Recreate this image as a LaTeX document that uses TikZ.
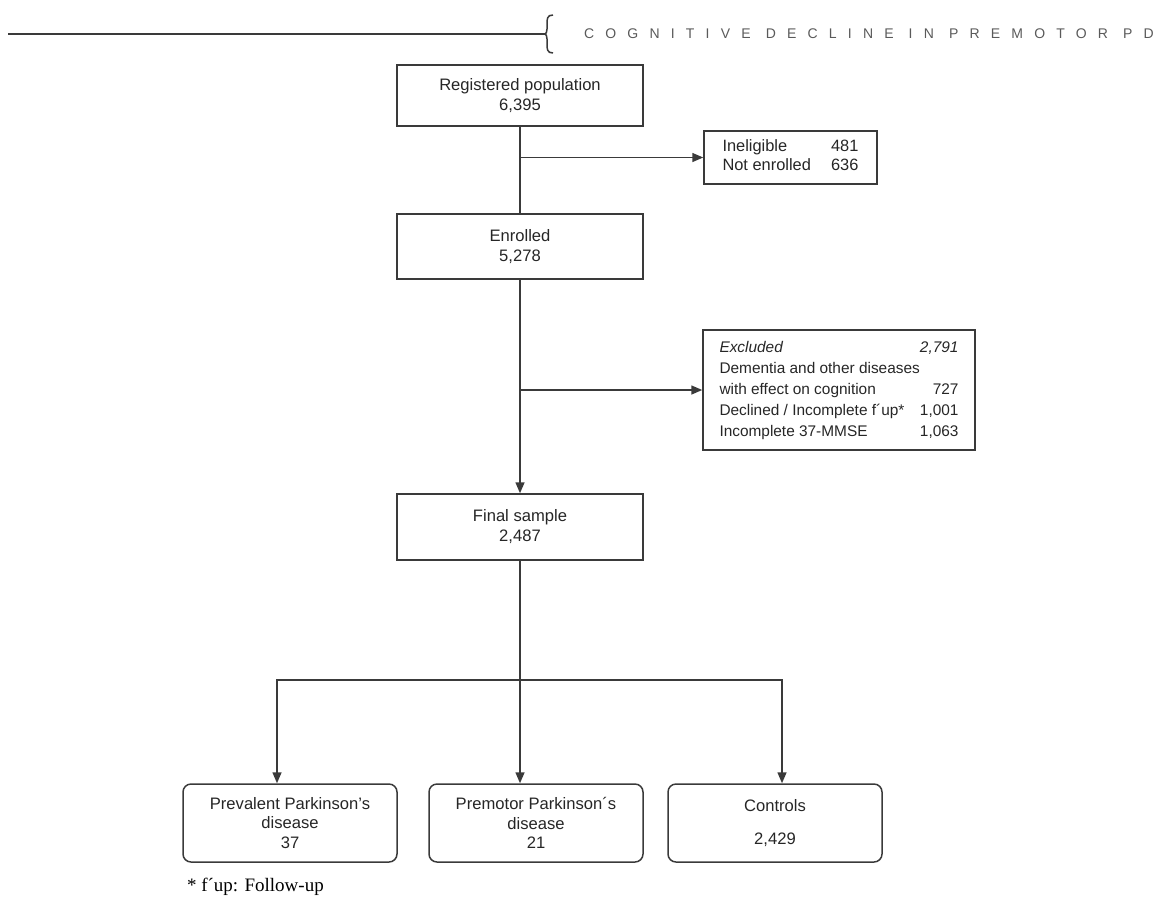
\documentclass[tikz,border=0pt]{standalone}
\usepackage{fontspec}
\setmainfont{Liberation Sans}
\newfontfamily\notefont{Liberation Serif}
\newfontfamily\headfont[LetterSpace=80]{Liberation Sans}
\usepackage{tikz}
\usetikzlibrary{arrows.meta, positioning}

\definecolor{linegray}{HTML}{3A3A3A}
\definecolor{headgray}{HTML}{5A5A5A}

\tikzset{
  flowbox/.style={draw=linegray, line width=0.75pt, minimum width=123pt, align=center,
    font=\fontsize{8.3}{10}\selectfont, text=black!85},
  sidebox/.style={draw=linegray, line width=0.75pt, inner sep=0pt, text=black!85},
  groupbox/.style={draw=linegray, line width=0.75pt, rounded corners=4pt, minimum width=107pt,
    minimum height=39pt, align=center, font=\fontsize{8.3}{9.75}\selectfont, text=black!85},
  link/.style={draw=linegray, line width=0.75pt},
  arr/.style={link, -{Triangle[length=5.5pt,width=4.5pt]}}
}

\begin{document}
\begin{tikzpicture}[x=0.5pt, y=-0.5pt]
\useasboundingbox (0,0) rectangle (1159,900);

\draw[link, line width=0.9pt] (8,34) -- (545,34);
\draw[link] (553,15) .. controls (547,15) and (547,19) .. (547,24) -- (547,29) .. controls (547,32) and (546,34) .. (545,34) .. controls (546,34) and (547,36) .. (547,39) -- (547,44) .. controls (547,49) and (547,53) .. (553,53);
\node[anchor=west, text=headgray, font=\headfont\fontsize{7}{8}\selectfont] (title) at (577,34) {COGNITIVE DECLINE IN PREMOTOR PD};

\node[flowbox, minimum height=30.5pt] (reg) at (520,95.5) {Registered population\\6,395};
\node[flowbox, minimum height=32.5pt] (enr) at (520,246.5) {Enrolled\\5,278};
\node[flowbox, minimum height=33pt] (fin) at (520,527) {Final sample\\2,487};

\node[sidebox, minimum width=86.5pt, minimum height=26.5pt, font=\fontsize{8.2}{9.5}\selectfont] (inel) at (790.5,157.5)
  {\begin{tabular*}{68pt}{@{}l@{\extracolsep{\fill}}r@{}}Ineligible & 481\\Not enrolled & 636\end{tabular*}};
\node[sidebox, minimum width=136pt, minimum height=60pt, font=\fontsize{7.7}{10.5}\selectfont] (excl) at (839,390)
  {\begin{tabular*}{119.5pt}{@{}l@{\extracolsep{\fill}}r@{}}
   \textit{Excluded} & \textit{2,791}\\
   Dementia and other diseases & \\
   with effect on cognition & 727\\
   Declined / Incomplete f´up* & 1,001\\
   Incomplete 37-MMSE & 1,063
   \end{tabular*}};

\node[groupbox] (prev) at (290,823) {Prevalent Parkinson's\\disease\\37};
\node[groupbox] (prem) at (536,823) {Premotor Parkinson´s\\disease\\21};
\node[groupbox] (ctrl) at (775,823) {Controls\\[7pt]2,429};

\coordinate (split) at (520,680);
\coordinate (prevtop) at ([xshift=-6.5pt]prev.north);
\coordinate (ctrltop) at ([xshift=3.5pt]ctrl.north);

\draw[link] (reg) -- (enr);
\draw[arr] (reg.south |- inel.west) -- (inel.west);
\draw[arr] (enr) -- (fin);
\draw[arr] (enr.south |- excl.west) -- (excl.west);
\draw[arr] (fin) -- (fin.south |- prem.north);
\draw[arr] (split) -| (prevtop);
\draw[arr] (split) -| (ctrltop);

\node[anchor=west, font=\notefont\fontsize{9.5}{11}\selectfont] (note) at (180,887) {* f´up: Follow-up};
\end{tikzpicture}
\end{document}
